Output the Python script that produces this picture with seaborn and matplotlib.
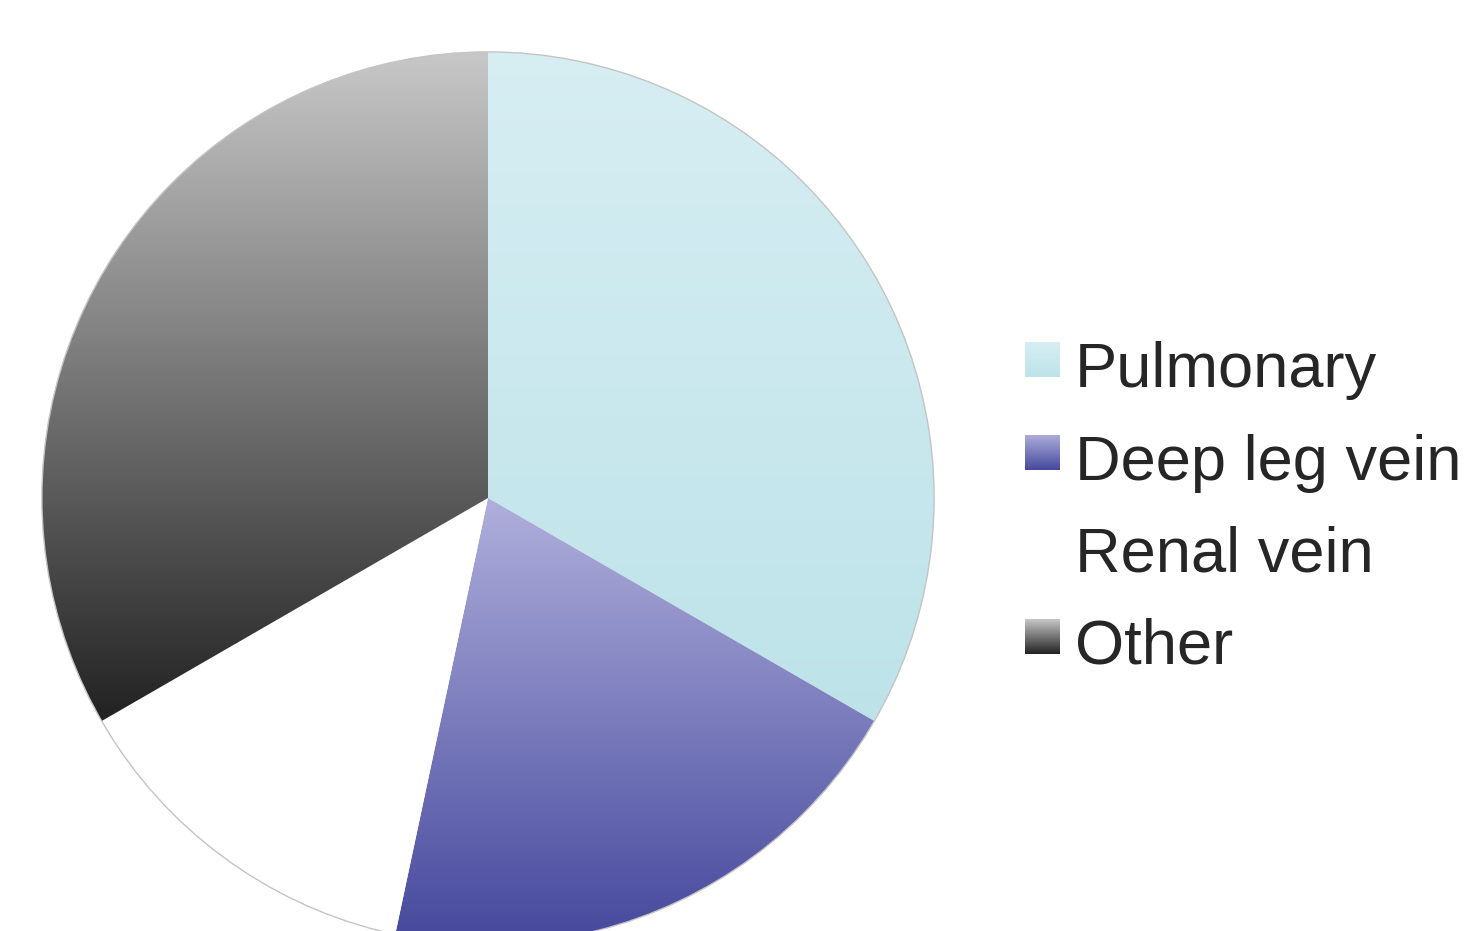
import numpy as np
import matplotlib
matplotlib.use("Agg")
import matplotlib.pyplot as plt
from matplotlib.colors import LinearSegmentedColormap
from matplotlib.patches import Circle
import seaborn as sns

sns.set_theme(style="white")
plt.rcParams["font.family"] = ["Liberation Sans", "DejaVu Sans"]

# Share of thrombosis sites
categories = ["Pulmonary", "Deep leg vein", "Renal vein", "Other"]
values = [5, 3, 2, 5]
# Vertical gradient per slice: (top colour, bottom colour)
grad_top = ["#d7eef3", "#b0afdc", "#ffffff", "#c8c8c8"]
grad_bottom = ["#bde3e9", "#45489c", "#ffffff", "#222222"]

W, H = 1470, 931
fig = plt.figure(figsize=(W / 100, H / 100), dpi=100)
fig.patch.set_facecolor("white")

# Pie axes: square box, centre (488, 498) px, radius 447 px
cx, cy, r = 488, 498, 447
ax = fig.add_axes([(cx - r) / W, (H - cy - r) / H, 2 * r / W, 2 * r / H])
wedges, _ = ax.pie(values, startangle=90, counterclock=False, radius=1,
                   colors=grad_top, wedgeprops=dict(linewidth=0, edgecolor="none"))

ramp = np.linspace(0, 1, 256).reshape(-1, 1)
for w, c0, c1 in zip(wedges, grad_top, grad_bottom):
    bb = w.get_path().get_extents()
    cmap = LinearSegmentedColormap.from_list("g", [c0, c1])
    im = ax.imshow(ramp, cmap=cmap, extent=[bb.x0, bb.x1, bb.y0, bb.y1],
                   origin="upper", aspect="auto", interpolation="bilinear", zorder=2)
    im.set_clip_path(w)
    w.set_facecolor("none")

ax.add_patch(Circle((0, 0), 1, fill=False, edgecolor="#c4c4c4", linewidth=1.0, zorder=3))
ax.set_xlim(-1.002, 1.002)
ax.set_ylim(-1.002, 1.002)
ax.set_aspect("equal")
ax.axis("off")

# Legend with gradient swatches
base_y = [387, 480, 572, 664]
sq_x, sq_size = 1025, 35
for name, c0, c1, by in zip(categories, grad_top, grad_bottom, base_y):
    top = by - 45
    sax = fig.add_axes([sq_x / W, (H - top - sq_size) / H, sq_size / W, sq_size / H])
    cmap = LinearSegmentedColormap.from_list("s", [c0, c1])
    sax.imshow(ramp, cmap=cmap, aspect="auto", origin="upper", interpolation="bilinear")
    sax.axis("off")
    fig.text(1075 / W, (H - by) / H, name, fontsize=45.5, color="#262626",
             ha="left", va="baseline")

fig.savefig("out.png", dpi=100, facecolor="white")
